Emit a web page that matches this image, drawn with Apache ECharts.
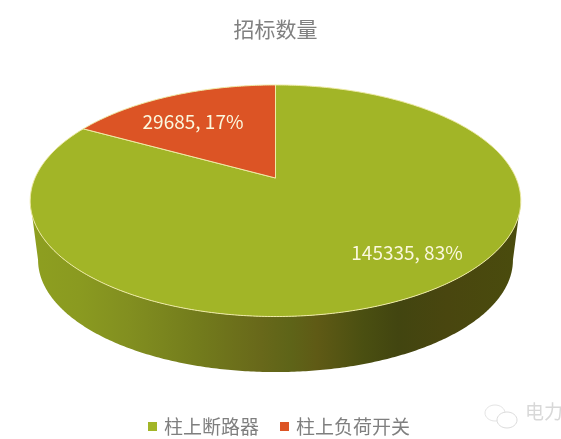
<!DOCTYPE html>
<html><head><meta charset="utf-8">
<style>html,body{margin:0;padding:0;background:#fff}#c{width:561px;height:439px}</style>
<script src="https://cdn.jsdelivr.net/npm/echarts@6/dist/echarts.min.js"></script>
</head><body><div id="c"></div>
<script>
const chartTitle = '招标数量';
const categories = ['柱上断路器', '柱上负荷开关'];
const seriesValues = [145335, 29685];
const percentLabels = ['83%', '17%'];
const watermarkText = '电力';

const colors = ['#A2B527', '#DC5425'];
const labelPos = [[407, 253], [193, 122]];
const wallStops = [
  [0, '#8E9F20'], [0.1, '#8A9A20'], [0.2, '#828F20'], [0.34, '#737C1C'],
  [0.47, '#68681A'], [0.53, '#5E6418'], [0.585, '#5F5A15'], [0.68, '#4A4F11'], [0.75, '#424510'],
  [0.85, '#49460F'], [1, '#4A4C0D']
];
const CX = 275.5, CY = 178, B = 240.5, A = 111.3, K = -0.1965, DEPTH = 60, SHRINK = 0.968;
const FONT = '"Noto Sans CJK SC","Noto Sans",sans-serif';

function rim(theta, lower) {
  const u = Math.sin(theta), v = -Math.cos(theta), d = 1 + K * v, s = lower ? SHRINK : 1;
  return [CX + s * B * u / d, CY + (lower ? DEPTH : 0) + s * A * v / d];
}
const total = seriesValues.reduce((a, b) => a + b, 0);
function range(i) {
  const before = seriesValues.slice(0, i).reduce((a, b) => a + b, 0);
  return [before / total * 2 * Math.PI, (before + seriesValues[i]) / total * 2 * Math.PI];
}
function arcPts(a0, a1, lower) {
  const n = Math.max(2, Math.ceil((a1 - a0) / 0.01)), pts = [];
  for (let j = 0; j <= n; j++) pts.push(rim(a0 + (a1 - a0) * j / n, lower));
  return pts;
}
const FRONT0 = Math.PI - Math.acos(-K), FRONT1 = Math.PI + Math.acos(-K);

function makeRender(i) {
  return function (params, api) {
    const value = api.value(0);
    const [a0, a1] = range(i);
    const children = [];
    const w0 = Math.max(a0, FRONT0), w1 = Math.min(a1, FRONT1);
    if (w1 > w0) {
      const pts = arcPts(w0, w1, false).concat(arcPts(w0, w1, true).reverse());
      children.push({
        type: 'polygon', shape: { points: pts },
        style: { fill: new echarts.graphic.LinearGradient(0, 0, 1, 0, wallStops.map(s => ({ offset: s[0], color: s[1] }))) },
        z2: 1
      });
    }
    const top = [[CX, CY]].concat(arcPts(a0, a1, false));
    children.push({
      type: 'polygon', shape: { points: top },
      style: { fill: colors[i], stroke: '#EFEBA6', lineWidth: 1, lineJoin: 'round' },
      z2: i === 0 ? 2 : 3
    });
    children.push({
      type: 'text', z2: 10,
      style: {
        text: value + ', ' + percentLabels[i], x: labelPos[i][0], y: labelPos[i][1],
        fill: '#FBF8DE', font: '19px ' + FONT, align: 'center', verticalAlign: 'middle'
      }
    });
    return { type: 'group', children };
  };
}

const chart = echarts.init(document.getElementById('c'), null, { renderer: 'canvas' });
chart.setOption({
  animation: false,
  backgroundColor: '#fff',
  title: {
    text: chartTitle, left: 270.5, top: 14, textAlign: 'center',
    textStyle: { color: '#808080', fontSize: 21, fontWeight: 'normal', fontFamily: FONT }
  },
  legend: {
    data: categories, left: 143, top: 412, itemWidth: 9, itemHeight: 9, itemGap: 21,
    icon: 'rect', textStyle: { color: '#7F7F7F', fontSize: 19, fontFamily: FONT, padding: [0, 0, 0, 2] }
  },
  graphic: [
    { type: 'ellipse', z: 5, shape: { cx: 495, cy: 413, rx: 10, ry: 8 }, style: { fill: '#fff', stroke: '#E4E4E4', lineWidth: 1 } },
    { type: 'ellipse', z: 5, shape: { cx: 507, cy: 420, rx: 10, ry: 8 }, style: { fill: '#fff', stroke: '#DCDCDC', lineWidth: 1 } },
    { type: 'text', left: 525, top: 402, z: 5, style: { text: watermarkText, fill: '#D8D8D8', font: '19px ' + FONT } }
  ],
  series: categories.map((name, i) => ({
    type: 'custom', name, coordinateSystem: 'none', silent: true, z: i === 0 ? 2 : 3,
    itemStyle: { color: colors[i] },
    renderItem: makeRender(i),
    data: [[seriesValues[i]]]
  }))
});
</script></body></html>
